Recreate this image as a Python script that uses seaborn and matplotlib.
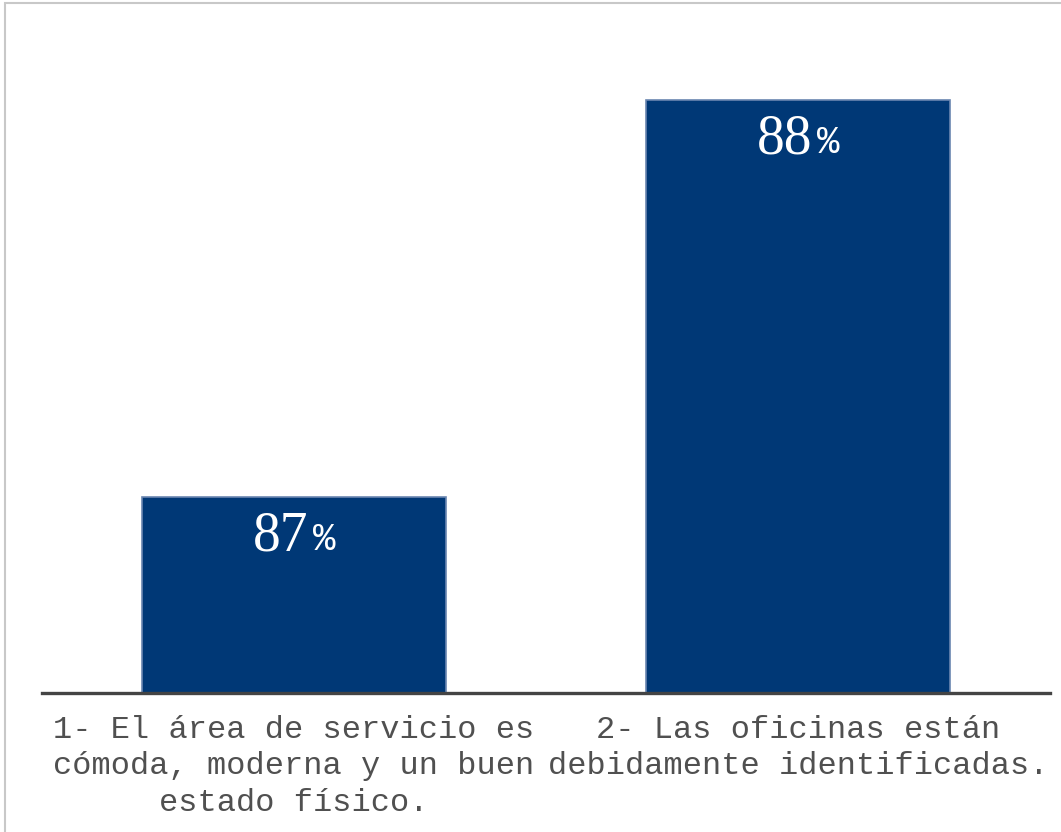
import matplotlib
matplotlib.use('Agg')
import matplotlib.pyplot as plt
from matplotlib.patches import Rectangle
import seaborn as sns
import pandas as pd

# --- data ---
categories = [
    '1- El área de servicio es\ncómoda, moderna y un buen\nestado físico.',
    '2- Las oficinas están\ndebidamente identificadas.',
]
values = [87, 88]
value_labels = ['87', '88']

df = pd.DataFrame({'pregunta': categories, 'valor': values})

sns.set_style('white')
plt.rcParams['font.family'] = ['Liberation Mono', 'DejaVu Sans']

fig = plt.figure(figsize=(10.61, 8.32), dpi=100)
ax = fig.add_axes([42 / 1061, 1 - 693 / 832, 1008 / 1061, 673 / 832])

sns.barplot(data=df, x='pregunta', y='valor', color='#003876', width=0.605,
            edgecolor='#6a86b0', linewidth=1.2, saturation=1, ax=ax)

ax.set_xlim(-0.5, 1.5)
ax.set_ylim(86.506, 88.201)

# value labels: serif digits plus a smaller percent sign
for i, (v, lab) in enumerate(zip(values, value_labels)):
    t = ax.annotate(lab, xy=(i, v), xytext=(-13, -14), textcoords='offset pixels',
                    ha='center', va='top', color='white', fontsize=40,
                    family='Liberation Serif')
    ax.annotate('%', xy=(1, 0), xycoords=t, xytext=(4, 5), textcoords='offset pixels',
                ha='left', va='bottom', color='white', fontsize=27,
                family='Liberation Mono')

# axes styling
for s in ['left', 'right', 'top']:
    ax.spines[s].set_visible(False)
ax.spines['bottom'].set_color('#444444')
ax.spines['bottom'].set_linewidth(2.4)
ax.set_yticks([])
ax.set_xlabel('')
ax.set_ylabel('')
ax.tick_params(axis='x', length=0, pad=16, labelsize=23, labelcolor='#505050')
for label in ax.get_xticklabels():
    label.set_linespacing(1.27)

# light outer frame of the chart area
fig.patches.append(Rectangle((5 / 1061, -0.1), 1.2, 1.1 - 3 / 832, transform=fig.transFigure,
                             fill=False, edgecolor='#c8c8c8', linewidth=1.5))

plt.savefig('out.png', dpi=100)
